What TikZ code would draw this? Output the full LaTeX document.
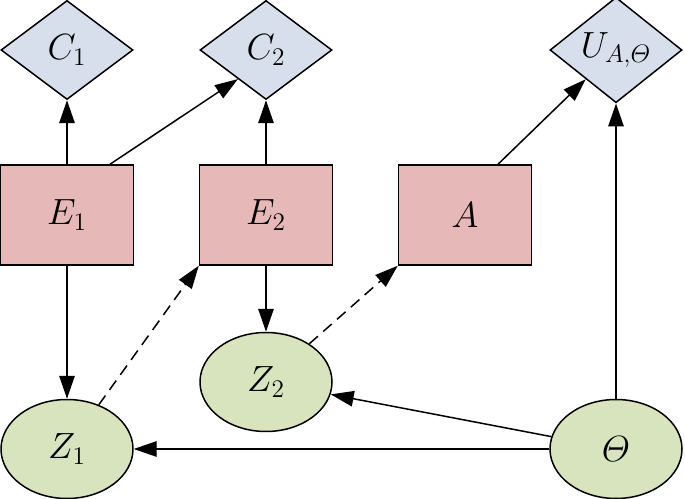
\documentclass[tikz,border=0pt]{standalone}
\usepackage{amsmath}
\usepackage{tikz}
\usetikzlibrary{shapes.geometric,arrows.meta}
\definecolor{valfill}{RGB}{214,223,235}
\definecolor{actfill}{RGB}{230,184,183}
\definecolor{varfill}{RGB}{215,228,189}

\begin{document}
\begin{tikzpicture}[
        every node/.style={line width=0.85pt, font=\fontsize{20}{24}\selectfont},
        valnode/.style={diamond, draw, fill=valfill, inner sep=0pt, minimum width=2.64cm, minimum height=1.98cm},
        actnode/.style={rectangle, draw, fill=actfill, minimum width=2.66cm, minimum height=2cm},
        varnode/.style={ellipse, draw, fill=varfill, minimum width=2.64cm, minimum height=1.98cm},
        every edge/.style={draw, line width=0.85pt, -{Triangle[length=4.6mm,width=3.1mm]}},
        hidden/.style={dash pattern=on 6.5pt off 4pt}]
        \useasboundingbox (0,0) rectangle (13.7,9.98);
        \node (c1) [valnode] at (1.34cm, 8.98cm) {$C_1$};
        \node (c2) [valnode] at (5.32cm, 8.98cm) {$C_2$};
        \node (u) [valnode] at (12.32cm, 8.98cm) {$U_{A,\varTheta}$};
        \node (e1) [actnode] at (1.34cm, 5.68cm) {$E_1$};
        \node (e2) [actnode] at (5.32cm, 5.68cm) {$E_2$};
        \node (a) [actnode] at (9.30cm, 5.68cm) {$A$};
        \node (z1) [varnode] at (1.34cm, 1.00cm) {$Z_1$};
        \node (z2) [varnode] at (5.32cm, 2.34cm) {$Z_2$};
        \node (th) [varnode] at (12.32cm, 1.00cm) {$\varTheta$};
        \draw (e1) edge (c1);
        \draw ([xshift=0.86cm]e1.north) edge (c2.-134);
        \draw (e2) edge (c2);
        \draw ([xshift=0.66cm]a.north) edge (u.-136);
        \draw (th) edge (u);
        \draw (e1) edge (z1);
        \draw (e2) edge (z2);
        \draw (z1) edge [hidden] (e2.south west);
        \draw (z2) edge [hidden] (a.south west);
        \draw (th) edge (z2);
        \draw (th) edge (z1);
\end{tikzpicture}
\end{document}
